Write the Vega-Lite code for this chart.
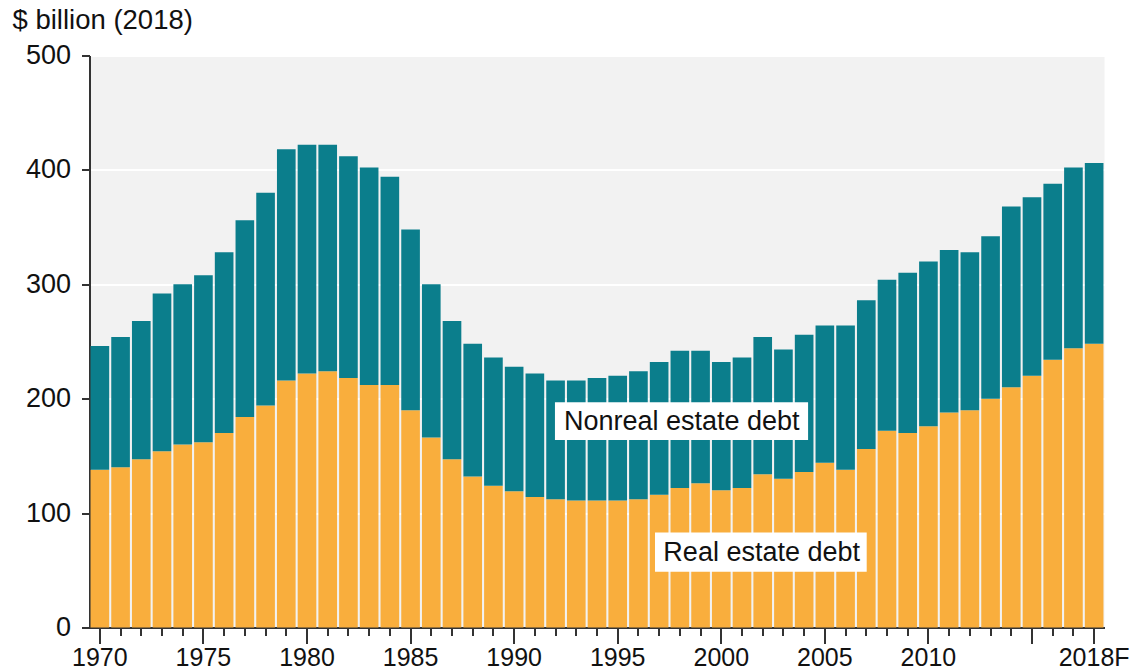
{
  "$schema": "https://vega.github.io/schema/vega-lite/v6.json",
  "width": 1015,
  "height": 572,
  "autosize": "none",
  "padding": {"left": 89.5, "top": 55.5, "right": 30.5, "bottom": 43.5},
  "background": "white",
  "config": {
    "view": {"fill": "#f2f2f2", "stroke": null},
    "font": "Liberation Sans",
    "text": {"font": "Liberation Sans"}
  },
  "datasets": {
    "debt": [
      {"year": 1970, "Real estate debt": 138, "Nonreal estate debt": 108},
      {"year": 1971, "Real estate debt": 140, "Nonreal estate debt": 114},
      {"year": 1972, "Real estate debt": 147, "Nonreal estate debt": 121},
      {"year": 1973, "Real estate debt": 154, "Nonreal estate debt": 138},
      {"year": 1974, "Real estate debt": 160, "Nonreal estate debt": 140},
      {"year": 1975, "Real estate debt": 162, "Nonreal estate debt": 146},
      {"year": 1976, "Real estate debt": 170, "Nonreal estate debt": 158},
      {"year": 1977, "Real estate debt": 184, "Nonreal estate debt": 172},
      {"year": 1978, "Real estate debt": 194, "Nonreal estate debt": 186},
      {"year": 1979, "Real estate debt": 216, "Nonreal estate debt": 202},
      {"year": 1980, "Real estate debt": 222, "Nonreal estate debt": 200},
      {"year": 1981, "Real estate debt": 224, "Nonreal estate debt": 198},
      {"year": 1982, "Real estate debt": 218, "Nonreal estate debt": 194},
      {"year": 1983, "Real estate debt": 212, "Nonreal estate debt": 190},
      {"year": 1984, "Real estate debt": 212, "Nonreal estate debt": 182},
      {"year": 1985, "Real estate debt": 190, "Nonreal estate debt": 158},
      {"year": 1986, "Real estate debt": 166, "Nonreal estate debt": 134},
      {"year": 1987, "Real estate debt": 147, "Nonreal estate debt": 121},
      {"year": 1988, "Real estate debt": 132, "Nonreal estate debt": 116},
      {"year": 1989, "Real estate debt": 124, "Nonreal estate debt": 112},
      {"year": 1990, "Real estate debt": 119, "Nonreal estate debt": 109},
      {"year": 1991, "Real estate debt": 114, "Nonreal estate debt": 108},
      {"year": 1992, "Real estate debt": 112, "Nonreal estate debt": 104},
      {"year": 1993, "Real estate debt": 111, "Nonreal estate debt": 105},
      {"year": 1994, "Real estate debt": 111, "Nonreal estate debt": 107},
      {"year": 1995, "Real estate debt": 111, "Nonreal estate debt": 109},
      {"year": 1996, "Real estate debt": 112, "Nonreal estate debt": 112},
      {"year": 1997, "Real estate debt": 116, "Nonreal estate debt": 116},
      {"year": 1998, "Real estate debt": 122, "Nonreal estate debt": 120},
      {"year": 1999, "Real estate debt": 126, "Nonreal estate debt": 116},
      {"year": 2000, "Real estate debt": 120, "Nonreal estate debt": 112},
      {"year": 2001, "Real estate debt": 122, "Nonreal estate debt": 114},
      {"year": 2002, "Real estate debt": 134, "Nonreal estate debt": 120},
      {"year": 2003, "Real estate debt": 130, "Nonreal estate debt": 113},
      {"year": 2004, "Real estate debt": 136, "Nonreal estate debt": 120},
      {"year": 2005, "Real estate debt": 144, "Nonreal estate debt": 120},
      {"year": 2006, "Real estate debt": 138, "Nonreal estate debt": 126},
      {"year": 2007, "Real estate debt": 156, "Nonreal estate debt": 130},
      {"year": 2008, "Real estate debt": 172, "Nonreal estate debt": 132},
      {"year": 2009, "Real estate debt": 170, "Nonreal estate debt": 140},
      {"year": 2010, "Real estate debt": 176, "Nonreal estate debt": 144},
      {"year": 2011, "Real estate debt": 188, "Nonreal estate debt": 142},
      {"year": 2012, "Real estate debt": 190, "Nonreal estate debt": 138},
      {"year": 2013, "Real estate debt": 200, "Nonreal estate debt": 142},
      {"year": 2014, "Real estate debt": 210, "Nonreal estate debt": 158},
      {"year": 2015, "Real estate debt": 220, "Nonreal estate debt": 156},
      {"year": 2016, "Real estate debt": 234, "Nonreal estate debt": 154},
      {"year": 2017, "Real estate debt": 244, "Nonreal estate debt": 158},
      {"year": 2018, "Real estate debt": 248, "Nonreal estate debt": 158}
    ],
    "labels": [
      {"label": "Nonreal estate debt", "x1": 1991.97, "x2": 2004.19, "y1": 196.9, "y2": 163.8, "tx": 1998.09, "ty": 179.7},
      {"label": "Real estate debt", "x1": 1996.8, "x2": 2007.02, "y1": 83.1, "y2": 48.7, "tx": 2001.95, "ty": 65.1}
    ]
  },
  "layer": [
    {
      "data": {"name": "debt"},
      "transform": [{"fold": ["Real estate debt", "Nonreal estate debt"], "as": ["type", "value"]}],
      "mark": {"type": "bar"},
      "encoding": {
        "x": {
          "field": "year",
          "type": "ordinal",
          "scale": {"paddingInner": 0.1, "paddingOuter": 0.05},
          "axis": {
            "title": null,
            "labelAngle": 0,
            "labelFontSize": 25,
            "labelColor": "#111",
            "labelOverlap": false,
            "labelPadding": 2,
            "labelExpr": "datum.value == 2018 ? '2018F' : ((datum.value % 5 == 0 && datum.value != 2015) ? datum.label : '')",
            "tickSize": {"condition": {"test": "datum.value % 5 == 0 || datum.value == 2018", "value": 16}, "value": 8},
            "tickColor": "#333",
            "tickWidth": 2,
            "domainColor": "#333",
            "domainWidth": 2,
            "grid": false
          }
        },
        "y": {
          "field": "value",
          "type": "quantitative",
          "stack": "zero",
          "scale": {"domain": [0, 500], "nice": false},
          "axis": {
            "title": "$ billion (2018)",
            "titleAngle": 0,
            "titleAlign": "left",
            "titleBaseline": "alphabetic",
            "titleX": -77.5,
            "titleY": -27.5,
            "titleFontSize": 27.5,
            "titleFontWeight": "normal",
            "titleColor": "#111",
            "values": [0, 100, 200, 300, 400, 500],
            "labelFontSize": 27,
            "labelColor": "#111",
            "labelPadding": 11,
            "tickSize": 8,
            "tickColor": "#333",
            "tickWidth": 2,
            "domainColor": "#333",
            "domainWidth": 2,
            "grid": true,
            "gridColor": "white",
            "gridWidth": 2
          }
        },
        "color": {
          "field": "type",
          "type": "nominal",
          "scale": {"domain": ["Real estate debt", "Nonreal estate debt"], "range": ["#F9AE3D", "#0B7E8C"]},
          "legend": null
        },
        "order": {"field": "type", "type": "nominal", "sort": "descending"}
      }
    },
    {
      "data": {"name": "labels"},
      "layer": [
        {
          "mark": {"type": "rect", "fill": "white"},
          "encoding": {
            "x": {"field": "x1", "type": "quantitative", "scale": {"domain": [1969.5, 2018.5], "nice": false, "zero": false}, "axis": null},
            "x2": {"field": "x2"},
            "y": {"field": "y1", "type": "quantitative"},
            "y2": {"field": "y2"}
          }
        },
        {
          "mark": {"type": "text", "fontSize": 27, "color": "#111", "align": "center", "baseline": "middle"},
          "encoding": {
            "x": {"field": "tx", "type": "quantitative", "scale": {"domain": [1969.5, 2018.5], "nice": false, "zero": false}, "axis": null},
            "y": {"field": "ty", "type": "quantitative"},
            "text": {"field": "label"}
          }
        }
      ]
    }
  ],
  "resolve": {"scale": {"x": "independent"}}
}
